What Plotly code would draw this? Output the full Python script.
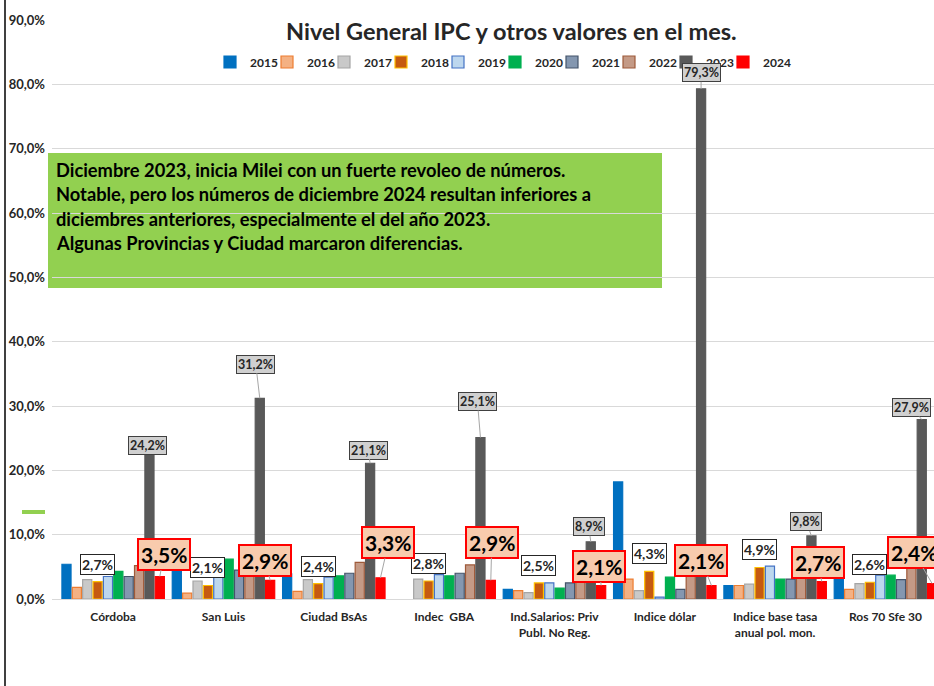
import plotly.graph_objects as go

# ---------------- data ----------------
categories = ["Córdoba", "San Luis", "Ciudad BsAs", "Indec  GBA",
              "Ind.Salarios: Priv<br>Publ. No Reg.", "Indice dólar",
              "Indice base tasa<br>anual pol. mon.", "Ros 70 Sfe 30"]
years = ["2015", "2016", "2017", "2018", "2019", "2020", "2021", "2022", "2023", "2024"]

v2015 = [5.4, 5.2, 3.9, None, 1.5, 18.2, 2.1, 3.3]
v2016 = [1.8, 0.9, 1.2, None, 1.3, 3.1, 2.1, 1.5]
v2017 = [3.0, 2.8, 3.0, 3.1, 1.0, 1.3, 2.3, 2.4]
v2018 = [2.7, 2.1, 2.4, 2.8, 2.5, 4.3, 4.9, 2.6]
v2019 = [3.5, 4.1, 3.4, 3.8, 2.5, 0.3, 5.1, 3.7]
v2020 = [4.3, 6.2, 3.6, 3.6, 1.7, 3.4, 3.1, 3.7]
v2021 = [3.5, 4.5, 4.0, 4.0, 2.5, 1.5, 3.1, 3.0]
v2022 = [5.2, 4.8, 5.7, 5.3, 2.8, 4.0, 6.2, 5.5]
v2023 = [24.2, 31.2, 21.1, 25.1, 8.9, 79.3, 9.8, 27.9]
v2024 = [3.5, 2.9, 3.3, 2.9, 2.1, 2.1, 2.7, 2.4]

series = [v2015, v2016, v2017, v2018, v2019, v2020, v2021, v2022, v2023, v2024]

title_text = "Nivel General IPC y otros valores en el mes."
note_lines = [
    "Diciembre 2023, inicia Milei con un fuerte revoleo de números.",
    "Notable, pero los números de diciembre 2024 resultan inferiores a",
    "diciembres anteriores, especialmente el del año 2023.",
    "Algunas Provincias y Ciudad marcaron diferencias.",
]

# ---------------- styles ----------------
fills = ["#0070C0", "#F4B183", "#C9C9C9", "#C55A11", "#BDD7EE",
         "#00B050", "#8497B0", "#C49A86", "#595959", "#FF0000"]
borders = ["#0070C0", "#ED7D31", "#A5A5A5", "#FFC000", "#4472C4",
           "#00B050", "#44546A", "#9E5A3A", "#595959", "#FF0000"]

FONT = "Lato"
BARGAP = 0.06
slot = (1 - BARGAP) / len(years)

def fmt(v):
    return f"{v:.1f}%".replace(".", ",")

fig = go.Figure()
for yr, vals, fc, lc in zip(years, series, fills, borders):
    fig.add_trace(go.Bar(
        name=yr, x=list(range(len(categories))), y=vals,
        marker=dict(color=fc, line=dict(color=lc, width=1.2)),
    ))
# invisible spacer entry so the last legend label is not clipped
fig.add_trace(go.Scatter(x=[None], y=[None], name=" ", mode="markers",
                         marker=dict(size=1, color="rgba(0,0,0,0)"), hoverinfo="skip"))

ann = []
# 2018 labels (white boxes)
i18 = years.index("2018")
for c, v in enumerate(v2018):
    ann.append(dict(x=c + (i18 - 4.5) * slot, y=v, xref="x", yref="y",
                    text=fmt(v), showarrow=False, yanchor="bottom", yshift=7,
                    font=dict(family=FONT, size=14, color="#262626", weight="bold"),
                    bgcolor="white", bordercolor="#262626", borderwidth=1, borderpad=1))

# 2023 labels (gray boxes)
off23 = [(-2, 2), (-4, -34), (-2, -13), (-3, -36), (-2, -15), (0, -16), (-5, -14), (-10, -12)]
i23 = years.index("2023")
for c, v in enumerate(v2023):
    dx, dy = off23[c]
    ann.append(dict(x=c + (i23 - 4.5) * slot, y=v, xref="x", yref="y",
                    text=fmt(v), showarrow=True, arrowhead=0, arrowwidth=1,
                    arrowcolor="#A6A6A6", ax=dx, ay=dy, standoff=0,
                    font=dict(family=FONT, size=12.5, color="#262626", weight="bold"),
                    bgcolor="#D0D0D0", bordercolor="#404040", borderwidth=1, borderpad=1))

# 2024 labels (red boxes)
off24 = [(4, -22), (-5, -20), (8, -35), (1, -38), (-2, -19), (-10, -25), (-4, -19), (-18, -31)]
i24 = years.index("2024")
for c, v in enumerate(v2024):
    dx, dy = off24[c]
    ann.append(dict(x=c + (i24 - 4.5) * slot, y=v, xref="x", yref="y",
                    text=fmt(v), showarrow=True, arrowhead=0, arrowwidth=1,
                    arrowcolor="#A6A6A6", ax=dx, ay=dy, standoff=0,
                    font=dict(family=FONT, size=21, color="#000000", weight="bold"),
                    bgcolor="#F8CBAD", bordercolor="#FF0000", borderwidth=2, borderpad=2))

# geometry helpers (pixel -> paper)
L, T, W, H = 52, 20, 934, 686
PW, PH = W - L, 599 - T
px = lambda x: (x - L) / PW
py = lambda y: (599 - y) / PH

# title
ann.append(dict(x=px(511), y=py(31), xref="paper", yref="paper", text=title_text,
                showarrow=False, xanchor="center", yanchor="middle",
                font=dict(family=FONT, size=23.5, color="#262626", weight="bold")))

# note text lines
for k, line in enumerate(note_lines):
    ann.append(dict(x=px(54), y=py(170 + k * 24.3), xref="paper", yref="paper",
                    text=line, showarrow=False, xanchor="left", yanchor="middle",
                    font=dict(family=FONT, size=18.3, color="#000000", weight="bold")))

shapes = [
    dict(type="rect", xref="paper", yref="paper", x0=px(48), x1=px(662),
         y0=py(288), y1=py(153), fillcolor="#92D050", line=dict(width=0), layer="below"),
    dict(type="line", xref="paper", yref="paper", x0=px(22), x1=px(45),
         y0=py(512), y1=py(512), line=dict(color="#92D050", width=4)),
    dict(type="line", xref="paper", yref="paper", x0=px(5), x1=px(5),
         y0=py(686), y1=py(0), line=dict(color="#000000", width=1.5)),
]

x_start = -0.5 - 6 / 110.6
fig.update_layout(
    template="none",
    width=W, height=H,
    margin=dict(l=L, r=0, t=T, b=H - 599, pad=0, autoexpand=False),
    paper_bgcolor="white", plot_bgcolor="white",
    barmode="group", bargap=BARGAP, bargroupgap=0.12,
    separators=",.",
    font=dict(family=FONT, color="#262626"),
    showlegend=True,
    legend=dict(orientation="h", x=px(210), xanchor="left", y=py(62), yanchor="middle",
                font=dict(family=FONT, size=12, color="#262626", weight="bold"),
                itemwidth=30, entrywidth=12, bgcolor="rgba(0,0,0,0)", borderwidth=0,
                traceorder="normal"),
    xaxis=dict(tickmode="array", tickvals=list(range(len(categories))), ticktext=categories,
               range=[x_start, 7.44],
               automargin=False, showgrid=False, ticks="", zeroline=False, showline=False,
               ticklabelstandoff=9,
               tickfont=dict(family=FONT, size=12, color="#262626", weight="bold")),
    yaxis=dict(range=[0, 90], dtick=10, tickformat=".1f", ticksuffix="%",
               automargin=False, ticklabelstandoff=6,
               showgrid=True, gridcolor="#D9D9D9", gridwidth=1, zeroline=True,
               zerolinecolor="#D9D9D9", zerolinewidth=1, ticks="", showline=False,
               tickfont=dict(family=FONT, size=13, color="#262626", weight="bold")),
    annotations=ann, shapes=shapes,
)

fig.write_html("out.html", config={"displayModeBar": False},
               post_script="document.body.style.margin='0';")
